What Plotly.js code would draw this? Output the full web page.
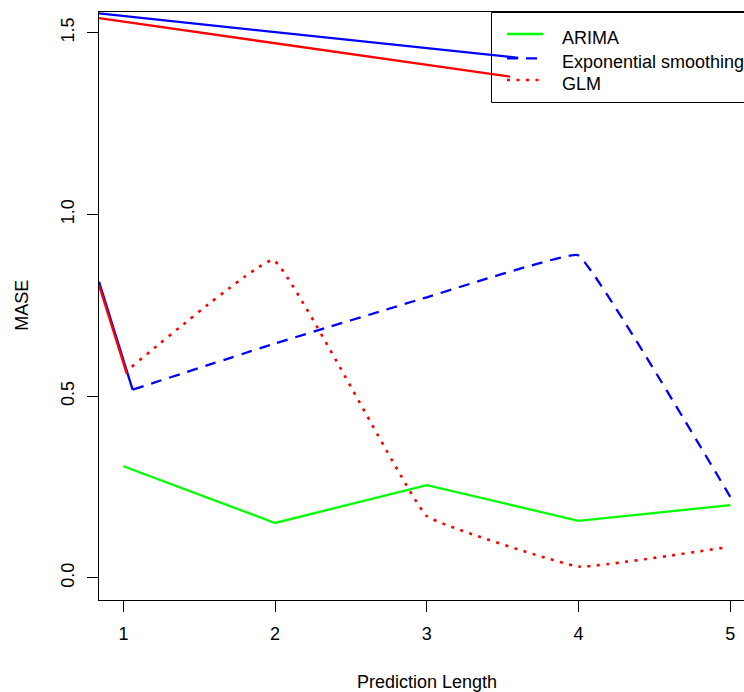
<!DOCTYPE html>
<html><head><meta charset="utf-8">
<script src="https://cdn.plot.ly/plotly-3.0.1.min.js"></script>
<style>html,body{margin:0;padding:0;background:#fff}</style>
</head><body><div id="chart" style="width:744px;height:692px"></div>
<script>
// ---- data ----
const xTickVals = [1, 2, 3, 4, 5];
const xTickText = ['1', '2', '3', '4', '5'];
const yTickVals = [0, 0.5, 1.0, 1.5];
const yTickText = ['0.0', '0.5', '1.0', '1.5'];
const seriesNames = ['ARIMA', 'Exponential smoothing', 'GLM'];

const arimaX = [1, 2, 3, 4, 5];
const arimaY = [0.307, 0.151, 0.255, 0.157, 0.200];

const esX = [1.061, 2, 3, 3.995, 5];
const esY = [0.518, 0.645, 0.772, 0.888, 0.223];

const glmX = [1.055, 1.988, 3, 4, 4.96];
const glmY = [0.581, 0.874, 0.170, 0.031, 0.083];

// stray solid segments visible in the reference
const esSolidUpperX = [0.839, 3.603];
const esSolidUpperY = [1.553, 1.431];
const esSolidLowerX = [0.839, 1.061];
const esSolidLowerY = [0.815, 0.517];
const glmSolidUpperX = [0.839, 3.548];
const glmSolidUpperY = [1.540, 1.379];
const glmSolidLowerX = [0.839, 1.022];
const glmSolidLowerY = [0.805, 0.562];

// ---- layout helpers (pixel -> paper) ----
const W = 744, H = 692, ML = 99, MR = 0, MT = 12, MB = 92;
const PW = W - ML - MR, PH = H - MT - MB;
const px = v => (v - ML) / PW;
const py = v => (H - MB - v) / PH;

const GREEN = '#00ff00', BLUE = '#0000ff', RED = '#ff0000';
const FONT = 'Liberation Sans, Arial, Helvetica, sans-serif';
const LW = 2.3;
const DASH = '11px,8px';
const DOT = '3px,6.5px';

const traces = [
  {x: arimaX, y: arimaY, mode: 'lines', name: seriesNames[0],
   line: {color: GREEN, width: LW}},
  {x: esX, y: esY, mode: 'lines', name: seriesNames[1],
   line: {color: BLUE, width: LW, dash: DASH, shape: 'spline', smoothing: 0.2}},
  {x: glmX, y: glmY, mode: 'lines', name: seriesNames[2],
   line: {color: RED, width: 2.6, dash: DOT, shape: 'spline', smoothing: 0.25}},
  {x: esSolidUpperX, y: esSolidUpperY, mode: 'lines', line: {color: BLUE, width: LW}},
  {x: esSolidLowerX, y: esSolidLowerY, mode: 'lines', line: {color: BLUE, width: LW}},
  {x: glmSolidUpperX, y: glmSolidUpperY, mode: 'lines', line: {color: RED, width: LW}},
  {x: glmSolidLowerX, y: glmSolidLowerY, mode: 'lines', line: {color: RED, width: LW}}
];
traces.forEach(t => { t.showlegend = false; t.hoverinfo = 'skip'; });

// legend drawn in pixel positions
const legTop = 12.5, legBottom = 102.5, legLeft = 491.5;
const legLineX0 = 507, legLineX1 = 543, legTextX = 560;
const legRows = [34, 58.3, 80];
const legStyles = [
  {color: GREEN, width: LW},
  {color: BLUE, width: LW, dash: DASH},
  {color: RED, width: 2.6, dash: DOT}
];
const shapes = [
  {type: 'rect', xref: 'paper', yref: 'paper', x0: px(legLeft), x1: px(W + 20),
   y0: py(legBottom), y1: py(legTop), line: {color: '#000', width: 1}, fillcolor: 'rgba(0,0,0,0)'}
];
const annotations = [];
legRows.forEach((r, i) => {
  shapes.push({type: 'line', xref: 'paper', yref: 'paper', x0: px(legLineX0), x1: px(legLineX1),
    y0: py(r), y1: py(r), line: legStyles[i]});
  annotations.push({xref: 'paper', yref: 'paper', x: px(legTextX), y: py(r + 3.5),
    xanchor: 'left', yanchor: 'middle', showarrow: false, text: seriesNames[i],
    font: {family: FONT, size: 18, color: '#000'}});
});
annotations.push({xref: 'paper', yref: 'paper', x: px(426.5), y: py(681.5),
  xanchor: 'center', yanchor: 'middle', showarrow: false, text: 'Prediction Length',
  font: {family: FONT, size: 18, color: '#000'}});
annotations.push({xref: 'paper', yref: 'paper', x: px(21.7), y: py(305),
  xanchor: 'center', yanchor: 'middle', showarrow: false, text: 'MASE', textangle: -90,
  font: {family: FONT, size: 18, color: '#000'}});

const layout = {
  width: W, height: H,
  margin: {l: ML, r: MR, t: MT, b: MB, pad: 0},
  paper_bgcolor: '#fff', plot_bgcolor: '#fff',
  showlegend: false,
  font: {family: FONT, size: 18, color: '#000'},
  xaxis: {range: [0.839, 0.839 + PW / 151.7], tickvals: xTickVals, ticktext: xTickText,
    ticks: 'outside', ticklen: 11, tickwidth: 1, tickcolor: '#000', ticklabelstandoff: 6,
    showline: true, mirror: true, linecolor: '#000', linewidth: 1,
    showgrid: false, zeroline: false, tickfont: {family: FONT, size: 18, color: '#000'}},
  yaxis: {range: [-0.061, 1.557], tickvals: yTickVals, ticktext: yTickText, tickangle: -90,
    ticks: 'outside', ticklen: 11, tickwidth: 1, tickcolor: '#000', ticklabelstandoff: 6,
    showline: true, mirror: false, linecolor: '#000', linewidth: 1,
    showgrid: false, zeroline: false, tickfont: {family: FONT, size: 18, color: '#000'}},
  shapes: shapes,
  annotations: annotations
};

Plotly.newPlot('chart', traces, layout, {displayModeBar: false, staticPlot: true});
</script>
</body></html>
